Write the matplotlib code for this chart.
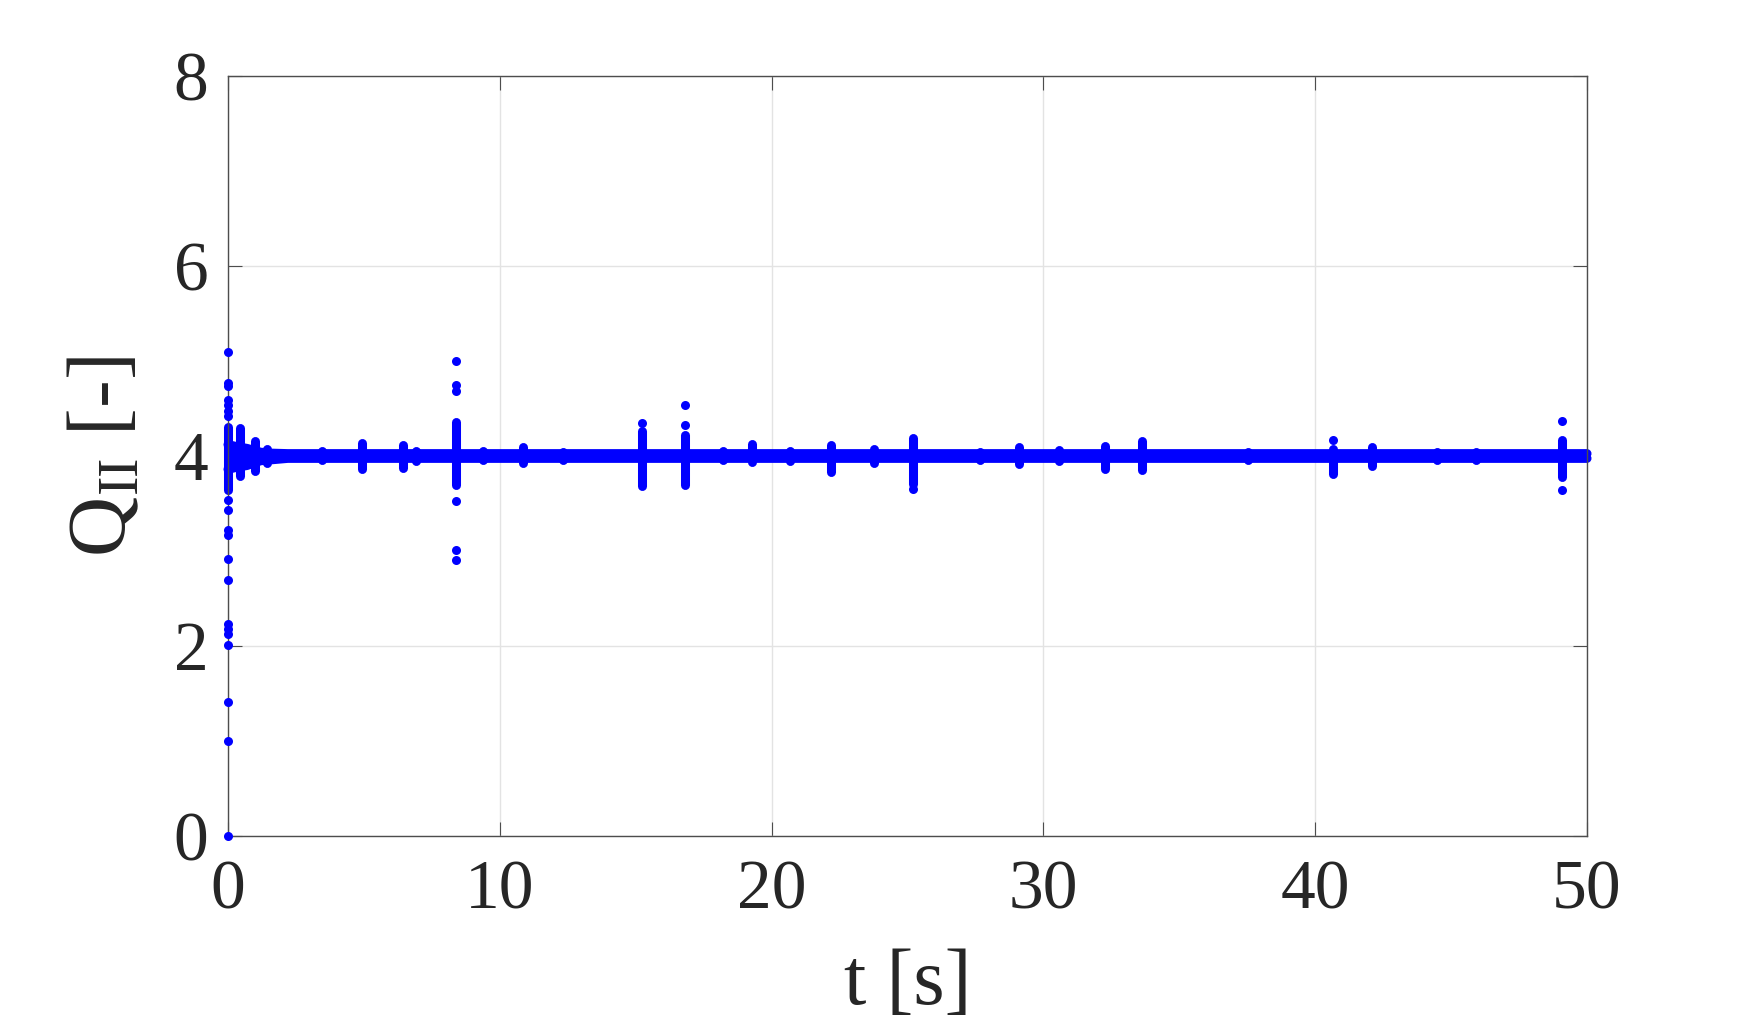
import numpy as np
import matplotlib
matplotlib.use('Agg')
import matplotlib.pyplot as plt

plt.rcParams['font.family'] = ['Liberation Serif', 'DejaVu Serif']
plt.rcParams['mathtext.fontset'] = 'custom'
plt.rcParams['mathtext.rm'] = 'Liberation Serif'

# dense band around Q = 4 (centres of the dots, lower / upper edge)
band_t = [0.0, 0.3, 0.7, 1.2, 1.6, 2.2, 5.0, 10.0, 20.0, 30.0, 40.0, 50.0]
band_lo = [3.86, 3.88, 3.90, 3.95, 3.96, 3.975, 3.975, 3.975, 3.975, 3.975, 3.975, 3.975]
band_hi = [4.12, 4.10, 4.08, 4.04, 4.03, 4.025, 4.025, 4.025, 4.025, 4.025, 4.025, 4.025]

# short bursts where the dots spread vertically
burst_t = [0.0, 0.44, 0.99, 1.45, 3.45, 4.92, 6.44, 6.90, 8.38, 9.39, 10.84, 12.31,
           15.24, 16.81, 18.22, 19.27, 20.68, 22.17, 23.78, 25.21, 27.67,
           29.11, 30.57, 32.27, 33.64, 37.54, 40.67, 42.08, 44.47, 45.92, 49.07]
burst_lo = [3.64, 3.79, 3.84, 3.93, 3.96, 3.86, 3.87, 3.95, 3.69, 3.96, 3.93, 3.96,
            3.68, 3.69, 3.96, 3.94, 3.95, 3.83, 3.93, 3.71, 3.96,
            3.92, 3.95, 3.86, 3.85, 3.96, 3.81, 3.90, 3.96, 3.96, 3.78]
burst_hi = [4.31, 4.29, 4.16, 4.07, 4.05, 4.14, 4.12, 4.05, 4.36, 4.05, 4.10, 4.04,
            4.26, 4.22, 4.05, 4.13, 4.05, 4.12, 4.07, 4.19, 4.04,
            4.10, 4.06, 4.11, 4.16, 4.04, 4.07, 4.09, 4.04, 4.04, 4.17]

# isolated samples
out_t = [0.0] * 20 + [8.38] * 6 + [15.24, 16.81, 16.81, 25.21, 40.67, 49.07, 49.07]
out_q = [5.09, 4.77, 4.59, 4.54, 4.47, 4.42, 3.54, 3.43, 3.22, 3.17,
         2.92, 2.69, 2.23, 2.18, 2.13, 2.01, 1.41, 1.00, 0.0, 4.74,
         5.00, 4.75, 4.68, 3.53, 3.01, 2.91,
         4.35, 4.54, 4.33, 3.65, 4.17, 4.37, 3.64]

x_ticks = [0, 10, 20, 30, 40, 50]
y_ticks = [0, 2, 4, 6, 8]

blue = (0, 0, 1)
dot = 6.5  # marker diameter in points
txt = '#262626'

fig = plt.figure(figsize=(17.55, 10.19), dpi=100)
ax = fig.add_axes([0.1299, 0.1796, 0.7744, 0.7458])

ax.fill_between(band_t, band_lo, band_hi, color=blue, lw=0, clip_on=False)
ax.plot(band_t, band_lo, color=blue, lw=dot, solid_capstyle='round', clip_on=False)
ax.plot(band_t, band_hi, color=blue, lw=dot, solid_capstyle='round', clip_on=False)
ax.vlines(burst_t, burst_lo, burst_hi, colors=[blue], linewidth=dot,
          capstyle='round', clip_on=False)
ax.scatter(out_t, out_q, s=dot ** 2, color=blue, linewidths=0, clip_on=False, zorder=3)

ax.set_xlim(0, 50)
ax.set_ylim(0, 8)
ax.set_xticks(x_ticks)
ax.set_yticks(y_ticks)
ax.grid(True, color='#e3e3e3', linewidth=1.0)
ax.set_axisbelow(True)

for sp in ax.spines.values():
    sp.set_color('#4d4d4d')
    sp.set_linewidth(1.0)

ax.tick_params(direction='in', length=10, width=0.8, color='#4d4d4d',
               labelsize=50, labelcolor=txt, pad=14, top=True, right=True)
ax.tick_params(axis='x', pad=17)
ax.set_xlabel('t [s]', fontsize=58, color=txt, labelpad=18)
ax.set_ylabel(r'Q$_{\mathrm{II}}$ [-]', fontsize=60, color=txt, labelpad=22)

fig.savefig('out.png', dpi=100)
